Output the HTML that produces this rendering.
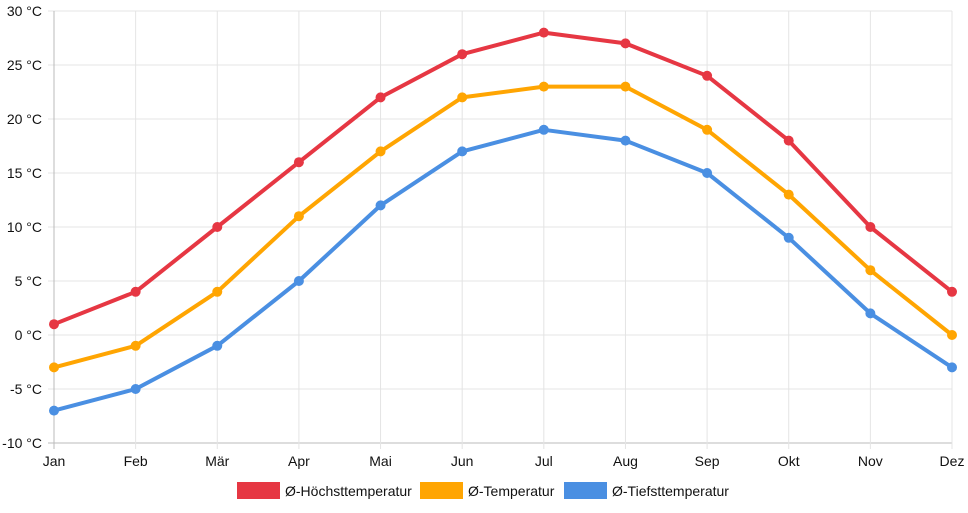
<!DOCTYPE html>
<html><head><meta charset="utf-8"><style>
body{margin:0;background:#fff;font-family:"Liberation Sans",sans-serif;}
svg text{font-family:"Liberation Sans",sans-serif;font-size:14px;fill:#111;}
</style></head><body>
<svg id="chart" width="968" height="508"></svg>
<script>
const months=["Jan","Feb","Mär","Apr","Mai","Jun","Jul","Aug","Sep","Okt","Nov","Dez"];
const highTemps=[1,4,10,16,22,26,28,27,24,18,10,4];
const avgTemps=[-3,-1,4,11,17,22,23,23,19,13,6,0];
const lowTemps=[-7,-5,-1,5,12,17,19,18,15,9,2,-3];
const yTicks=[-10,-5,0,5,10,15,20,25,30];
const seriesNames=["Ø-Höchsttemperatur","Ø-Temperatur","Ø-Tiefsttemperatur"];
const NS="http://www.w3.org/2000/svg";
const svg=document.getElementById('chart');
const x0=54,x1=952,yTop=11,yBot=443,yMin=-10,yMax=30;
const xs=i=>x0+i*(x1-x0)/(months.length-1);
const ys=v=>yBot-(v-yMin)*(yBot-yTop)/(yMax-yMin);
function el(t,a){const e=document.createElementNS(NS,t);for(const k in a)e.setAttribute(k,a[k]);svg.appendChild(e);return e;}
yTicks.forEach(v=>{
  const l=el('line',{x1:x0-6,x2:x1,y1:ys(v),y2:ys(v),stroke:v===yMin?'#bbb':'#e4e4e4','stroke-width':1});
  
  
  const t=el('text',{x:42,y:ys(v)+5,'text-anchor':'end'});t.textContent=v+' °C';
  
  
});
months.forEach((m,i)=>{
  const l=el('line',{x1:xs(i),x2:xs(i),y1:yTop,y2:yBot+6,stroke:i===0?'#bbb':'#e4e4e4','stroke-width':1});
  
  
  const t=el('text',{x:xs(i),y:466,'text-anchor':'middle'});t.textContent=m;
  
  
});
const series=[[highTemps,'#e63743'],[avgTemps,'#ffa502'],[lowTemps,'#4a8fe2']];
series.forEach(([d,c],si)=>{
  const p=el('polyline',{points:d.map((v,i)=>xs(i)+','+ys(v)).join(' '),fill:'none',stroke:c,'stroke-width':4,'stroke-linejoin':'round'});
  
  
  d.forEach((v,i)=>{
    const pt=el('circle',{cx:xs(i),cy:ys(v),r:5,fill:c});
    
    
  });
});
const legX=[237,420,564];
seriesNames.forEach((n,i)=>{
  const r=el('rect',{x:legX[i],y:482,width:43,height:17,fill:series[i][1]});
  
  
  const t=el('text',{x:legX[i]+48,y:496});t.textContent=n;
  
  
});
</script>
</body></html>
